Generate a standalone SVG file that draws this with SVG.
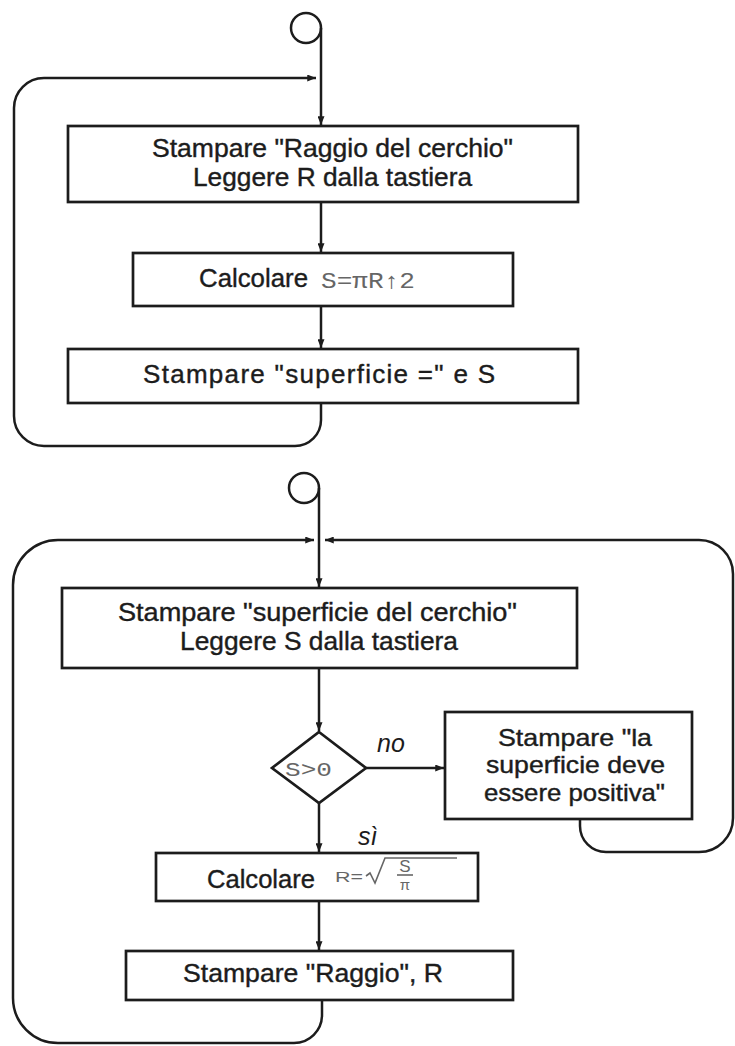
<svg xmlns="http://www.w3.org/2000/svg" width="735" height="1046" viewBox="0 0 735 1046">
<defs>
<style>
.box{fill:#fff;stroke:#1c1c1c;stroke-width:2.7}
.ln{fill:none;stroke:#1c1c1c;stroke-width:2.5}
.t{font-family:"Liberation Sans",Arial,sans-serif;font-size:26px;fill:#1c1c1c;stroke:#1c1c1c;stroke-width:0.4}
.t5{font-size:24px}
.lbl{font-family:"Liberation Sans",Arial,sans-serif;font-size:25px;font-style:italic;fill:#1c1c1c}
.f{font-family:"Liberation Mono","Courier New",monospace;fill:#666}
.fs{font-family:"Liberation Sans",Arial,sans-serif;fill:#666}
</style>
<marker id="ah" viewBox="0 0 10 8" refX="10" refY="4" markerWidth="9" markerHeight="7" markerUnits="userSpaceOnUse" orient="auto">
<path d="M0,0 L10,4 L0,8 Z" fill="#1c1c1c"/>
</marker>
</defs>
<rect width="735" height="1046" fill="#fff"/>

<g id="connectors">
<line class="ln" x1="321" y1="28" x2="321" y2="125" marker-end="url(#ah)"/>
<line class="ln" x1="321" y1="202" x2="321" y2="252" marker-end="url(#ah)"/>
<line class="ln" x1="321" y1="306" x2="321" y2="348" marker-end="url(#ah)"/>
<path class="ln" d="M321,403 L321,420 A26,26 0 0 1 295,446 L44,446 A30,30 0 0 1 14,416 L14,108 A30,30 0 0 1 44,78 L316,78" marker-end="url(#ah)"/>

<line class="ln" x1="319" y1="488" x2="319" y2="587" marker-end="url(#ah)"/>
<line class="ln" x1="319" y1="668" x2="319" y2="731" marker-end="url(#ah)"/>
<line class="ln" x1="319" y1="803" x2="319" y2="852" marker-end="url(#ah)"/>
<line class="ln" x1="366" y1="768" x2="444" y2="768" marker-end="url(#ah)"/>
<line class="ln" x1="319" y1="901" x2="319" y2="950" marker-end="url(#ah)"/>
<path class="ln" d="M322,1000 L322,1015 A28,28 0 0 1 294,1043 L58,1043 A45,45 0 0 1 13,998 L13,585 A45,45 0 0 1 58,540 L314,540" marker-end="url(#ah)"/>
<path class="ln" d="M580,819 L580,826 A26,26 0 0 0 606,852 L699,852 A34,34 0 0 0 733,818 L733,574 A34,34 0 0 0 699,540 L325,540" marker-end="url(#ah)"/>
</g>

<g id="start1">
<circle class="ln" cx="306" cy="28" r="15"/>
</g>

<g id="box1">
<rect class="box" x="68" y="126" width="510" height="76"/>
<text class="t" x="152" y="157" textLength="361" lengthAdjust="spacingAndGlyphs">Stampare "Raggio del cerchio"</text>
<text class="t" x="193" y="186" textLength="279" lengthAdjust="spacingAndGlyphs">Leggere R dalla tastiera</text>
</g>

<g id="box2">
<rect class="box" x="133" y="253" width="380" height="53"/>
<text class="t" x="199" y="287" textLength="109" lengthAdjust="spacingAndGlyphs">Calcolare</text>
<text class="f" x="321" y="288" font-size="22" textLength="94" lengthAdjust="spacingAndGlyphs">S=πR↑2</text>
</g>

<g id="box3">
<rect class="box" x="68" y="349" width="510" height="54"/>
<text class="t" x="143" y="383" textLength="352" lengthAdjust="spacing">Stampare "superficie =" e S</text>
</g>

<g id="start2">
<circle class="ln" cx="304" cy="488" r="15"/>
</g>

<g id="box4">
<rect class="box" x="62" y="588" width="515" height="80"/>
<text class="t" x="118" y="621" textLength="399" lengthAdjust="spacingAndGlyphs">Stampare "superficie del cerchio"</text>
<text class="t" x="180" y="650" textLength="278" lengthAdjust="spacingAndGlyphs">Leggere S dalla tastiera</text>
</g>

<g id="decision">
<polygon class="box" points="319,732 366,768 319,803 272,768"/>
<text class="f" x="285" y="776" font-size="20" textLength="47" lengthAdjust="spacingAndGlyphs">S&gt;0</text>
<text class="lbl" x="377" y="752">no</text>
<text class="lbl" x="358" y="845">sì</text>
</g>

<g id="box5">
<rect class="box" x="445" y="712" width="247" height="107"/>
<text class="t t5" x="498" y="746" textLength="154" lengthAdjust="spacingAndGlyphs">Stampare "la</text>
<text class="t t5" x="486" y="773" textLength="179" lengthAdjust="spacingAndGlyphs">superficie deve</text>
<text class="t t5" x="484" y="801" textLength="181" lengthAdjust="spacingAndGlyphs">essere positiva"</text>
</g>

<g id="box6">
<rect class="box" x="156" y="853" width="322" height="48"/>
<text class="t" x="207" y="888" textLength="108" lengthAdjust="spacingAndGlyphs">Calcolare</text>
<text class="fs" x="335" y="882" font-size="15" textLength="28" lengthAdjust="spacingAndGlyphs">R=</text>
<path d="M366,876 L370,873 L375,883 L385,858 L457,858" fill="none" stroke="#666" stroke-width="1.6"/>
<text class="fs" x="405" y="872" font-size="17" text-anchor="middle">S</text>
<line x1="397" y1="875" x2="413" y2="875" stroke="#666" stroke-width="1.6"/>
<text class="fs" x="405" y="890" font-size="15" text-anchor="middle">π</text>
</g>

<g id="box7">
<rect class="box" x="126" y="951" width="387" height="49"/>
<text class="t" x="183" y="982" textLength="260" lengthAdjust="spacingAndGlyphs">Stampare "Raggio", R</text>
</g>
</svg>
